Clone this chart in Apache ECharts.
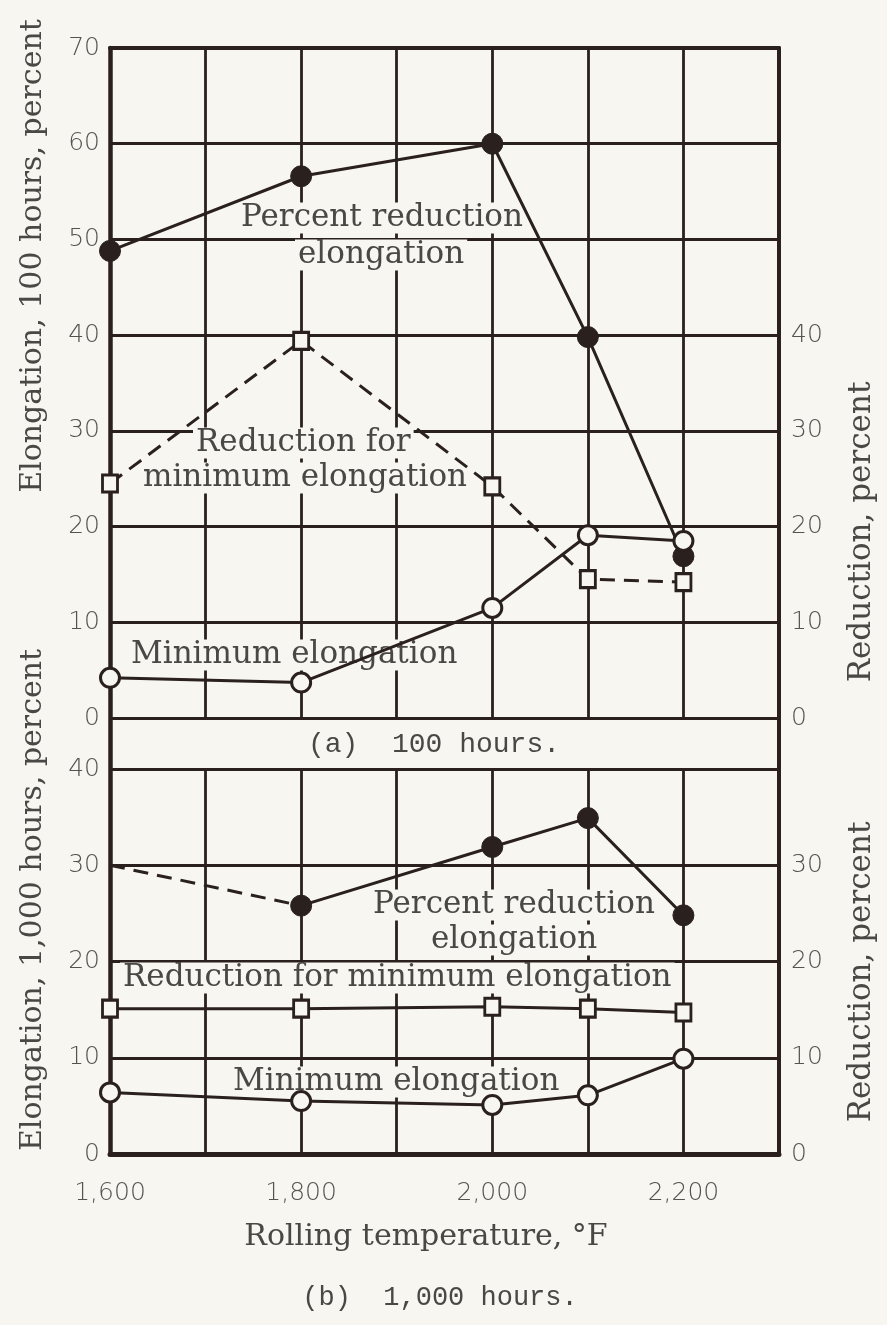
<!DOCTYPE html>
<html>
<head>
<meta charset="utf-8">
<script src="https://cdn.jsdelivr.net/npm/echarts@6/dist/echarts.min.js"></script>
<style>
html,body{margin:0;padding:0;background:#f7f6f1;}
#chart{width:887px;height:1325px;}
</style>
</head>
<body>
<div id="chart"></div>
<script>
// ---- Data ----
const temps = [1600, 1800, 2000, 2100, 2200];
// (a) 100 hours
const a_pctRedElong   = [48.8, 56.6, 60.0, 39.8, 16.9];
const a_redForMinElong = [24.5, 39.4, 24.2, 14.5, 14.2];
const a_minElong      = [4.2, 3.7, 11.5, 19.1, 18.5];
// (b) 1,000 hours
const b_pctTemps      = [1800, 2000, 2100, 2200];
const b_pctRedElong   = [25.8, 31.9, 34.9, 24.8];
const b_pctDashedTemps = [1600, 1800];
const b_pctDashed     = [30.0, 25.8];
const b_redForMinElong = [15.1, 15.1, 15.3, 15.1, 14.7];
const b_minElong      = [6.4, 5.5, 5.1, 6.1, 9.9];
// tick labels
const xTickValues = [1600, 1800, 2000, 2200];
const xTickLabels = ['1,600', '1,800', '2,000', '2,200'];
const aLeftTicks  = [0, 10, 20, 30, 40, 50, 60, 70];
const aRightTicks = [0, 10, 20, 30, 40];
const bLeftTicks  = [0, 10, 20, 30, 40];
const bRightTicks = [0, 10, 20, 30];

const INK = '#2a201d';
const PAPER = '#f7f6f1';
const TXT = '#4a4744';
const NUM = '#55524f';
const SERIF = "'DejaVu Serif', 'Liberation Serif', serif";
const MONO = "'Liberation Mono', 'DejaVu Sans Mono', monospace";
const NUMFONT = "'DejaVu Sans', 'Liberation Sans', sans-serif";

const zip = (xs, ys) => xs.map((x, i) => [x, ys[i]]);

const chart = echarts.init(document.getElementById('chart'), null, {renderer: 'canvas'});

const splitLine = {show: true, lineStyle: {color: INK, width: 2.8}};
const numLabel = (ticks, margin) => ({
  show: true, margin: margin, color: NUM, fontFamily: NUMFONT, fontSize: 25, fontWeight: 200,
  formatter: v => ticks.indexOf(v) >= 0 ? String(v) : ''
});

function xAx(grid, withLabels) {
  return {
    type: 'value', gridIndex: grid, min: 1600, max: 2300, interval: 100,
    axisLine: {show: false}, axisTick: {show: false},
    axisLabel: withLabels ? {
      show: true, margin: 27, color: NUM, fontFamily: NUMFONT, fontSize: 25, fontWeight: 200,
      formatter: v => { const i = xTickValues.indexOf(v); return i >= 0 ? xTickLabels[i] : ''; }
    } : {show: false},
    splitLine: splitLine
  };
}
function yAx(grid, max, pos, ticks, split) {
  return {
    type: 'value', gridIndex: grid, min: 0, max: max, interval: 10, position: pos,
    axisLine: {show: false}, axisTick: {show: false},
    axisLabel: numLabel(ticks, pos === 'left' ? 10 : 12),
    splitLine: split ? splitLine : {show: false}
  };
}
function frameX(pos, w) {
  return {type: 'value', gridIndex: 2, min: 0, max: 1, position: pos,
    axisLine: {show: true, onZero: false, lineStyle: {color: INK, width: w}},
    axisTick: {show: false}, axisLabel: {show: false}, splitLine: {show: false}};
}
function frameY(pos, w) {
  return {type: 'value', gridIndex: 2, min: 0, max: 1, position: pos,
    axisLine: {show: true, onZero: false, lineStyle: {color: INK, width: w}},
    axisTick: {show: false}, axisLabel: {show: false}, splitLine: {show: false}};
}

const filled = {color: INK, borderColor: INK, borderWidth: 1};
const open = {color: PAPER, borderColor: INK, borderWidth: 3};
const solid = {color: INK, width: 3, type: 'solid'};
const dashed = {color: INK, width: 3, type: [15, 9]};

function ser(xi, yi, data, symbol, size, item, line) {
  return {
    type: 'line', xAxisIndex: xi, yAxisIndex: yi, data: data,
    symbol: symbol, symbolSize: size, showSymbol: symbol !== 'none',
    itemStyle: item, lineStyle: line, clip: false, z: 3, animation: false
  };
}

function txt(x, y, s) {
  return {
    type: 'text', x: x, y: y, z: 1,
    style: {text: s, fontFamily: SERIF, fontSize: 31, fill: TXT,
      backgroundColor: PAPER, padding: [0, 3], verticalAlign: 'middle', align: 'left'}
  };
}
function vtxt(x, y, s, size) {
  return {
    type: 'text', x: x, y: y, rotation: Math.PI / 2, z: 1,
    style: {text: s, fontFamily: SERIF, fontSize: size, fill: TXT, verticalAlign: 'middle', align: 'center'}
  };
}
function ctxt(x, y, s, font, size) {
  return {
    type: 'text', x: x, y: y, z: 1,
    style: {text: s, fontFamily: font, fontSize: size, fill: TXT, verticalAlign: 'middle', align: 'center'}
  };
}

const option = {
  backgroundColor: PAPER,
  animation: false,
  grid: [
    {left: 110, top: 48, width: 669, height: 670},
    {left: 110, top: 769, width: 669, height: 385},
    {left: 110, top: 48, width: 669, height: 1106}
  ],
  xAxis: [xAx(0, false), xAx(1, true), frameX('top', 4), frameX('bottom', 5)],
  yAxis: [
    yAx(0, 70, 'left', aLeftTicks, true),
    yAx(0, 70, 'right', aRightTicks, false),
    yAx(1, 40, 'left', bLeftTicks, true),
    yAx(1, 40, 'right', bRightTicks, false),
    frameY('left', 4.5), frameY('right', 4)
  ],
  series: [
    ser(0, 0, zip(temps, a_pctRedElong), 'circle', 21, filled, solid),
    ser(0, 0, zip(temps, a_redForMinElong), 'rect', [15, 17], open, dashed),
    ser(0, 0, zip(temps, a_minElong), 'circle', 19, open, solid),
    ser(1, 2, zip(b_pctDashedTemps, b_pctDashed), 'none', 0, filled, dashed),
    ser(1, 2, zip(b_pctTemps, b_pctRedElong), 'circle', 21, filled, solid),
    ser(1, 2, zip(temps, b_redForMinElong), 'rect', [15, 17], open, solid),
    ser(1, 2, zip(temps, b_minElong), 'circle', 19, open, solid)
  ],
  graphic: [
    // panel (a) annotations
    txt(238, 218, 'Percent reduction'),
    txt(295, 255, 'elongation'),
    txt(193, 443, 'Reduction for'),
    txt(140, 478, 'minimum elongation'),
    txt(128, 655, 'Minimum elongation'),
    ctxt(434, 745, '(a)  100 hours.', MONO, 28),
    // panel (b) annotations
    txt(370, 905, 'Percent reduction'),
    txt(428, 940, 'elongation'),
    txt(120, 978, 'Reduction for minimum elongation'),
    txt(230, 1082, 'Minimum elongation'),
    // axis titles
    vtxt(33, 256, 'Elongation, 100 hours, percent', 30),
    vtxt(33, 900, 'Elongation, 1,000 hours, percent', 30),
    vtxt(862, 532, 'Reduction, percent', 31),
    vtxt(862, 972, 'Reduction, percent', 31),
    ctxt(426, 1237, 'Rolling temperature, °F', SERIF, 30),
    ctxt(440, 1298, '(b)  1,000 hours.', MONO, 27)
  ]
};
chart.setOption(option);
</script>
</body>
</html>
